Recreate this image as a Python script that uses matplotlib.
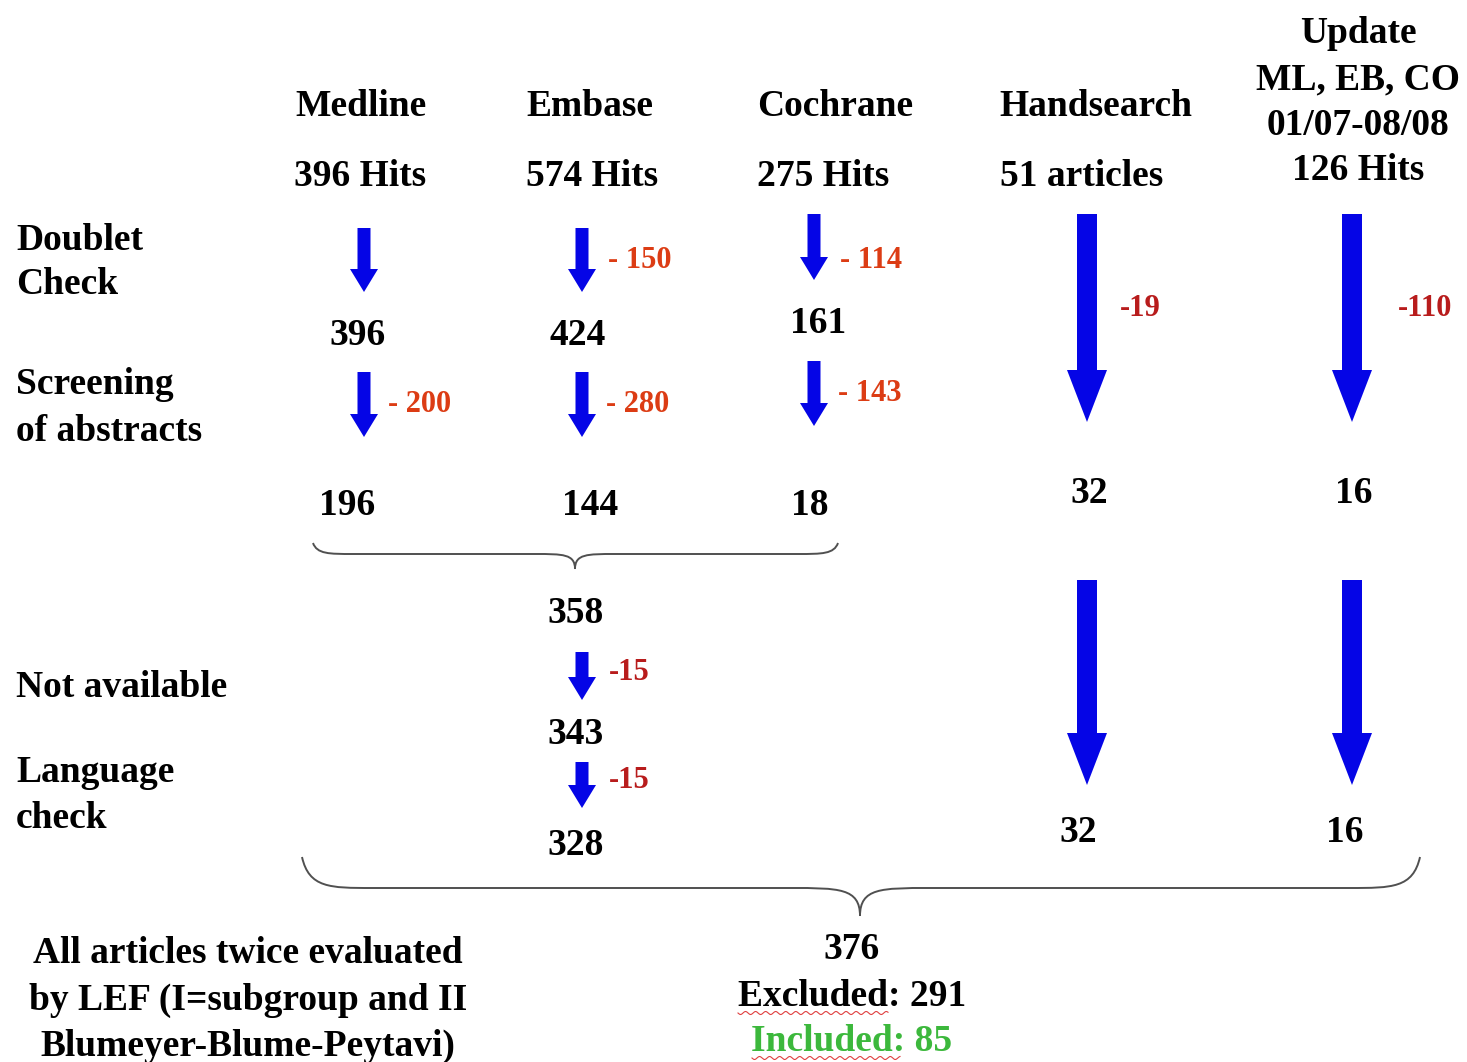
import numpy as np
import matplotlib
matplotlib.use("Agg")
import matplotlib.pyplot as plt
from matplotlib.patches import FancyArrow, PathPatch
from matplotlib.path import Path

# ---- chart content ----
sources = ["Medline", "Embase", "Cochrane", "Handsearch"]
hits_labels = ["396 Hits", "574 Hits", "275 Hits", "51 articles"]
update_header = ["Update", "ML, EB, CO", "01/07-08/08", "126 Hits"]

stage_labels = [["Doublet", "Check"], ["Screening", "of abstracts"],
                ["Not available"], ["Language", "check"]]

after_doublet = [396, 424, 161]
doublet_removed = [None, 150, 114]
screen_removed = [200, 280, 143]
after_screen = [196, 144, 18]

hand_removed, update_removed = 19, 110
hand_after, update_after = 32, 16

pooled = 358
not_available = 15
after_available = 343
language_removed = 15
after_language = 328

final_total = 376
excluded = 291
included = 85
eval_text = ["All articles twice evaluated", "by LEF (I=subgroup and II",
             "Blumeyer-Blume-Peytavi)"]

# ---- layout (pixel coordinates, y downward) ----
col_x = [364, 582, 814]          # small arrow columns
big_x = [1087, 1352]             # handsearch / update arrows
header_x = [361, 590, 835, 1096]
hits_x = [360, 592, 823, 1082]

BLUE = "#0505e6"
ORANGE_RED = "#dc3c14"
DARK_RED = "#b81c1c"
GREEN = "#3cb83c"
FONT = "Liberation Serif"

fig = plt.figure(figsize=(14.67, 10.62), dpi=100)
ax = fig.add_axes([0, 0, 1, 1])
ax.set_xlim(0, 1467)
ax.set_ylim(1062, 0)
ax.axis("off")


def txt(x, y, s, size=27, color="black", ha="center", weight="bold"):
    ax.text(x, y, s, fontsize=size, color=color, ha=ha, va="baseline",
            family=FONT, fontweight=weight)


def down_arrow(x, y0, y1, big=False):
    if big:
        w, hw, hl = 20, 40, 52
    else:
        w, hw, hl = 13, 28, 23
    ax.add_patch(FancyArrow(x, y0, 0, y1 - y0, width=w, head_width=hw,
                            head_length=hl, length_includes_head=True,
                            color=BLUE, lw=0))


def brace(x0, x1, xm, y_end, y_line, y_tip, r):
    verts = [(x0, y_end),
             (x0 + r * 0.1, y_line), (x0 + r * 0.4, y_line), (x0 + r, y_line),
             (xm - r, y_line),
             (xm - r * 0.3, y_line), (xm, y_line), (xm, y_tip),
             (xm, y_line), (xm + r * 0.3, y_line), (xm + r, y_line),
             (x1 - r, y_line),
             (x1 - r * 0.4, y_line), (x1 - r * 0.1, y_line), (x1, y_end)]
    codes = [Path.MOVETO,
             Path.CURVE4, Path.CURVE4, Path.CURVE4,
             Path.LINETO,
             Path.CURVE4, Path.CURVE4, Path.CURVE4,
             Path.CURVE4, Path.CURVE4, Path.CURVE4,
             Path.LINETO,
             Path.CURVE4, Path.CURVE4, Path.CURVE4]
    ax.add_patch(PathPatch(Path(verts, codes), fill=False, ec="#505050", lw=1.4))


# headers
for x, s in zip(header_x, sources):
    txt(x, 116, s)
for x, s in zip(hits_x, hits_labels):
    txt(x, 186, s)
for y, s in zip([43, 89, 135, 180], update_header):
    txt(1358, y, s)

# stage labels on the left
stage_y = [[250, 294], [394, 441], [697], [782, 828]]
for lines, ys in zip(stage_labels, stage_y):
    for s, y in zip(lines, ys):
        txt(16, y, s, ha="left")

# doublet check
doublet_top = [228, 228, 214]
doublet_bot = [292, 292, 280]
doublet_val_y = [345, 345, 333]
doublet_val_x = [358, 578, 818]
doublet_lab_y = [268, 268, 268]
for i in range(3):
    down_arrow(col_x[i], doublet_top[i], doublet_bot[i])
    if doublet_removed[i] is not None:
        txt(col_x[i] + 26, doublet_lab_y[i], f"- {doublet_removed[i]}",
            size=22, color=ORANGE_RED, ha="left")
    txt(doublet_val_x[i], doublet_val_y[i], str(after_doublet[i]))

# screening of abstracts
screen_top = [372, 372, 361]
screen_bot = [437, 437, 426]
screen_lab_y = [412, 412, 401]
screen_val_x = [347, 590, 810]
for i in range(3):
    down_arrow(col_x[i], screen_top[i], screen_bot[i])
    txt(col_x[i] + 24, screen_lab_y[i], f"- {screen_removed[i]}",
        size=22, color=ORANGE_RED, ha="left")
    txt(screen_val_x[i], 515, str(after_screen[i]))

# handsearch / update columns
for x, dx, rem, after in zip(big_x, [33, 46], [hand_removed, update_removed],
                             [hand_after, update_after]):
    down_arrow(x, 214, 422, big=True)
    txt(x + dx, 316, f"-{rem}", size=22, color=DARK_RED, ha="left")
    txt(x + 2, 503, str(after))
    down_arrow(x, 580, 785, big=True)
txt(1078, 842, str(hand_after))
txt(1345, 842, str(update_after))

# pooled databases
brace(313, 838, 575, 543, 554, 569, 40)
txt(576, 623, str(pooled))
down_arrow(582, 652, 700)
txt(609, 680, f"-{not_available}", size=22, color=DARK_RED, ha="left")
txt(576, 744, str(after_available))
down_arrow(582, 762, 808)
txt(609, 788, f"-{language_removed}", size=22, color=DARK_RED, ha="left")
txt(576, 855, str(after_language))

# final pooling
brace(302, 1420, 860, 857, 888, 916, 70)
for y, s in zip([963, 1010, 1056], eval_text):
    txt(248, y, s)
txt(852, 959, str(final_total))
txt(852, 1006, f"Excluded: {excluded}")
txt(852, 1051, f"Included: {included}", color=GREEN)

# spell-check squiggles under the two words
for xa, xb, y in [(738, 888, 1013), (752, 900, 1058)]:
    xs = np.linspace(xa, xb, 200)
    ax.plot(xs, y + 1.5 * np.sin((xs - xa) / 1.6), color="#e04040", lw=0.8)

fig.savefig("out.png", dpi=100)
